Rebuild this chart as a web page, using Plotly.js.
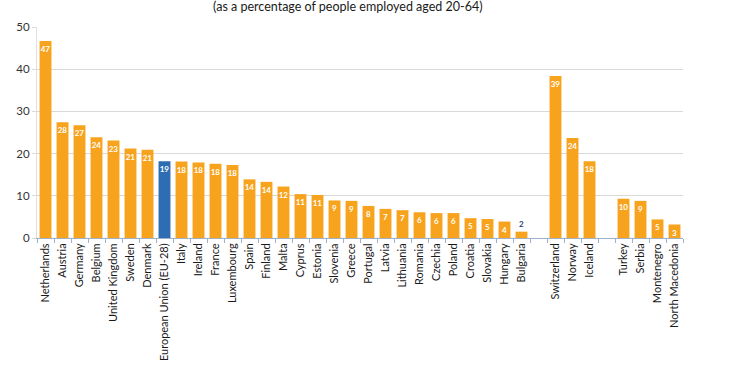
<!DOCTYPE html>
<html>
<head>
<meta charset="utf-8">
<script src="https://cdn.plot.ly/plotly-3.0.1.min.js"></script>
<style>html,body{margin:0;padding:0;background:#fff;}#chart{width:740px;height:389px;}</style>
</head>
<body>
<div id="chart"></div>
<script>
var categories = ["Netherlands","Austria","Germany","Belgium","United Kingdom","Sweden","Denmark","European Union (EU-28)","Italy","Ireland","France","Luxembourg","Spain","Finland","Malta","Cyprus","Estonia","Slovenia","Greece","Portugal","Latvia","Lithuania","Romania","Czechia","Poland","Croatia","Slovakia","Hungary","Bulgaria"," ","Switzerland","Norway","Iceland","  ","Turkey","Serbia","Montenegro","North Macedonia"];
var values = [46.7,27.4,26.7,23.9,23.1,21.2,20.9,18.2,18.1,17.9,17.6,17.3,13.9,13.3,12.2,10.4,10.2,8.9,8.8,7.6,6.9,6.6,6.1,5.9,5.9,4.7,4.5,3.9,1.5,null,38.4,23.7,18.2,null,9.3,8.8,4.4,3.2];
var labels = ["47","28","27","24","23","21","21","19","18","18","18","18","14","14","12","11","11","9","9","8","7","7","6","6","6","5","5","4","2","","39","24","18","","10","9","5","3"];
var titleText = "(as a percentage of people employed aged 20-64)";

var ORANGE = "#F8A31E", BLUE = "#2E6DB4";
var colors = categories.map(function(c){ return c.indexOf("European Union") === 0 ? BLUE : ORANGE; });
var positions = values.map(function(v){ return (v !== null && v < 3) ? "outside" : "inside"; });
var textColors = values.map(function(v){ return (v !== null && v < 3) ? "#1F3A6E" : "#ffffff"; });

var trace = {
  type: "bar",
  x: categories,
  y: values,
  marker: {color: colors},
  text: labels,
  textposition: positions,
  insidetextanchor: "end",
  constraintext: "none",
  cliponaxis: false,
  textfont: {family: "Lato, Open Sans, sans-serif", size: 8, color: textColors, weight: "bold"},
  hoverinfo: "x+y"
};

var layout = {
  width: 740, height: 389,
  margin: {l: 37, r: 57, t: 27, b: 151},
  paper_bgcolor: "#ffffff", plot_bgcolor: "#ffffff",
  bargap: 0.3,
  showlegend: false,
  font: {family: "Lato, Open Sans, sans-serif", color: "#1a1a1a"},
  title: {text: titleText, x: 0.47, xanchor: "center", y: 0.982, yanchor: "middle", yref: "container",
          font: {family: "Lato, Open Sans, sans-serif", size: 12.5, color: "#1a1a1a"}},
  xaxis: {
    type: "category",
    tickangle: -90,
    tickfont: {size: 11, color: "#1a1a1a"},
    showline: true, linecolor: "#9fb0cc", linewidth: 1,
    ticks: "outside", tickson: "boundaries", ticklen: 4, tickcolor: "#9fb0cc",
    showgrid: false, zeroline: false, fixedrange: true
  },
  yaxis: {
    range: [0, 50],
    tickvals: [0,10,20,30,40,50],
    ticktext: ["0","10","20","30","40","50"],
    tickfont: {size: 11.5, color: "#333333"},
    showgrid: true, gridcolor: "#d9d9d9", gridwidth: 1,
    showline: true, linecolor: "#e0e0e0", linewidth: 1,
    ticks: "outside", ticklen: 4, tickcolor: "#d9d9d9",
    zeroline: false, fixedrange: true
  }
};

Plotly.newPlot("chart", [trace], layout, {displayModeBar: false, staticPlot: true});
</script>
</body>
</html>
